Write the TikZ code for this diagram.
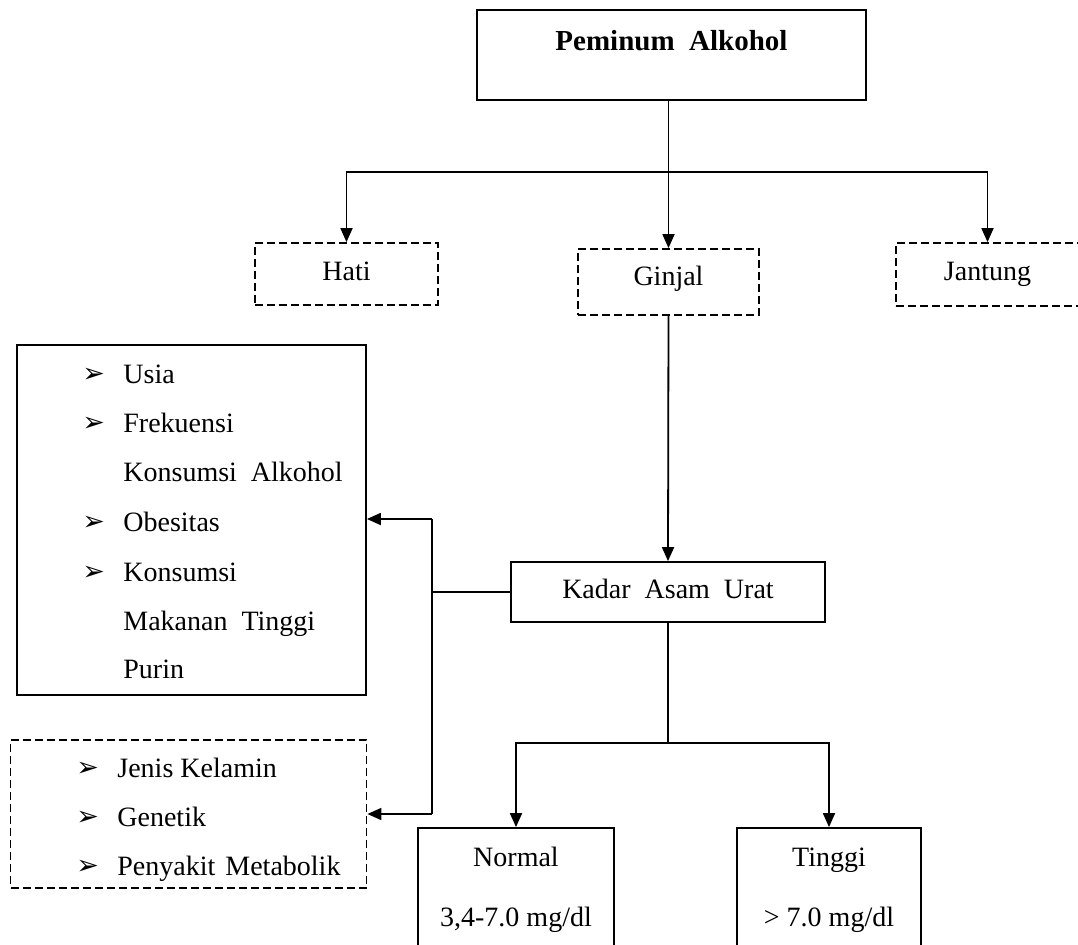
\documentclass[tikz,border=0pt]{standalone}
\usepackage{fontspec}
\setmainfont{Liberation Serif}
\newfontfamily\symfont{DejaVu Sans}
\usetikzlibrary{arrows.meta}
\begin{document}
\begin{tikzpicture}[x=0.5pt,y=-0.5pt,
  every node/.style={font=\fontsize{14pt}{16pt}\selectfont},
  solidbox/.style={draw, line width=0.9pt, inner sep=0pt},
  dashbox/.style={draw, line width=0.9pt, inner sep=0pt, dash pattern=on 4pt off 2pt},
  conn/.style={line width=0.9pt},
  arr/.style={conn, -{Triangle[length=7pt,width=6pt]}},
  txt/.style={anchor=base, inner sep=0pt},
  ltxt/.style={anchor=base west, inner sep=0pt},
  bul/.style={anchor=base west, inner sep=0pt, font=\symfont\fontsize{13.5pt}{15pt}\selectfont}
]
\useasboundingbox (0,0) rectangle (1078,944);

% boxes
\node[solidbox, minimum width=194.5pt, minimum height=45pt] (pa) at (671.5,55) {};
\node[txt, font=\fontsize{14.5pt}{16pt}\selectfont\bfseries] (paT) at (671.5,50) {Peminum\ \ Alkohol};

\node[dashbox, minimum width=91.5pt, minimum height=31pt] (hati) at (346.5,274) {};
\node[txt] (hatiT) at (346.5,280) {Hati};
\node[dashbox, minimum width=90.5pt, minimum height=33pt] (ginjal) at (668.5,282) {};
\node[txt] (ginjalT) at (668.5,285) {Ginjal};
\node[dashbox, minimum width=91.5pt, minimum height=31.5pt] (jantung) at (987.5,274.5) {};
\node[txt] (jantungT) at (987.5,280) {Jantung};

\node[solidbox, minimum width=157pt, minimum height=30pt] (kadar) at (668,592) {};
\node[txt] (kadarT) at (668,598) {Kadar\ \ Asam\ \ Urat};

\node[solidbox, minimum width=174.5pt, minimum height=175pt] (f1) at (191.5,520) {};
\node[bul] (b1) at (82,382) {➢};
\node[ltxt] (t1) at (123,383) {Usia};
\node[bul] (b2) at (82,431) {➢};
\node[ltxt] (t2) at (123,432) {Frekuensi};
\node[ltxt] (t3) at (123,481) {Konsumsi\ \ Alkohol};
\node[bul] (b4) at (82,530) {➢};
\node[ltxt] (t4) at (123,531) {Obesitas};
\node[bul] (b5) at (82,580) {➢};
\node[ltxt] (t5) at (123,581) {Konsumsi};
\node[ltxt] (t6) at (123,630) {Makanan\ \ Tinggi};
\node[ltxt] (t7) at (123,678) {Purin};

\node[dashbox, minimum width=178pt, minimum height=74pt] (f2) at (188.5,814) {};
\node[bul] (c1) at (76,776) {➢};
\node[ltxt] (s1) at (117,777) {Jenis Kelamin};
\node[bul] (c2) at (76,825) {➢};
\node[ltxt] (s2) at (117,826) {Genetik};
\node[bul] (c3) at (76,874) {➢};
\node[ltxt] (s3) at (117,875) {Penyakit\hspace{5pt}Metabolik};

\node[solidbox, minimum width=98pt, minimum height=59pt] (normal) at (516,887) {};
\node[txt] (normalT1) at (516,866) {Normal};
\node[txt] (normalT2) at (516,926) {3,4-7.0 mg/dl};
\node[solidbox, minimum width=92pt, minimum height=59pt] (tinggi) at (829,887) {};
\node[txt] (tinggiT1) at (829,866) {Tinggi};
\node[txt] (tinggiT2) at (829,926) {> 7.0 mg/dl};

% connectors
\coordinate (j) at (668.5,172);
\draw[arr] (ginjal.north |- pa.south) -- (ginjal.north);
\draw[arr] (j) -| (hati.north);
\draw[arr] (j) -| (jantung.north);
\draw[arr] (ginjal.south) -- (kadar.north);

\coordinate (vx) at (432,592);
\coordinate (v1) at (432,519);
\coordinate (v2) at (432,814);
\draw[conn] (kadar.west) -- (vx);
\draw[conn] (v1) -- (v2);
\draw[arr] (v1) -- (v1 -| f1.east);
\draw[arr] (v2) -- (v2 -| f2.east);

\coordinate (k2) at (668,743);
\draw[conn] (kadar.south) -- (k2);
\draw[arr] (k2) -| (normal.north);
\draw[arr] (k2) -| (tinggi.north);
\end{tikzpicture}
\end{document}
